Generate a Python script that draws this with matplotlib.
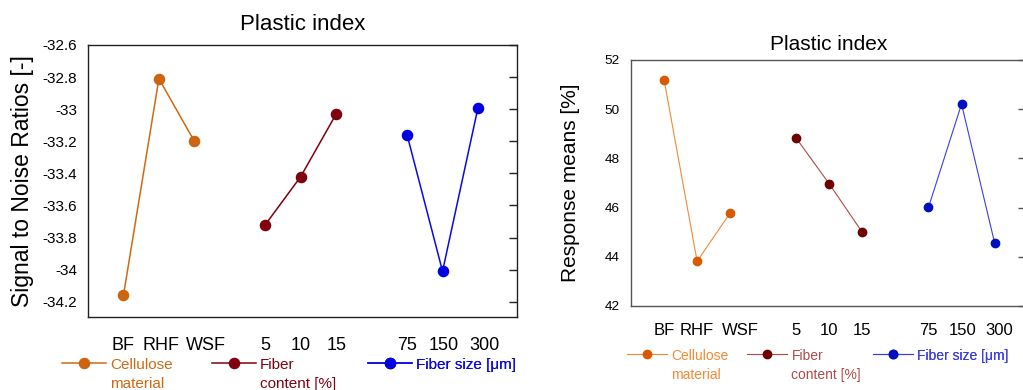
import numpy as np
import matplotlib.pyplot as plt
import matplotlib.transforms as mtrans

plt.rcParams['font.family'] = ['Liberation Sans', 'DejaVu Sans']

# ---- data ----
groups = ["Cellulose\nmaterial", "Fiber\ncontent [%]", "Fiber size [μm]"]
levels = [["BF", "RHF", "WSF"], ["5", "10", "15"], ["75", "150", "300"]]

sn_ratio = [[-34.16, -32.81, -33.20],
            [-33.72, -33.42, -33.03],
            [-33.16, -34.01, -32.99]]
resp_mean = [[51.2, 43.82, 45.78],
             [48.82, 46.96, 44.99],
             [46.01, 50.21, 44.57]]

sn_yticks = [-34.2, -34.0, -33.8, -33.6, -33.4, -33.2, -33.0, -32.8, -32.6]
sn_ticklabels = ["-34.2", "-34", "-33.8", "-33.6", "-33.4", "-33.2", "-33", "-32.8", "-32.6"]
mean_yticks = [42, 44, 46, 48, 50, 52]

# ---- styles ----
left_line = ["#cf6914", "#800010", "#0a0ae0"]
left_mark = ["#cc6410", "#800010", "#0000e0"]
right_line = ["#f28a34", "#b04a4a", "#3c3ce6"]
right_mark = ["#d85a00", "#700000", "#0010c0"]

W, H = 1023, 390
fig = plt.figure(figsize=(W / 100, H / 100), dpi=100)


def box(x0, y0, x1, y1):
    return [x0 / W, 1 - y1 / H, (x1 - x0) / W, (y1 - y0) / H]


def panel(ax, data, lcol, mcol, lw, ms, spine_col, fs, shifts):
    xs_all, labs, handles = [], [], []
    for g in range(3):
        xs = np.arange(3) + 4 * g
        h, = ax.plot(xs, data[g], color=lcol[g], lw=lw, marker="o", ms=ms,
                     mfc=mcol[g], mec=mcol[g], label=groups[g])
        handles.append(h)
        xs_all += list(xs)
        labs += levels[g]
    ax.set_xticks(xs_all)
    ax.set_xticklabels(labs, fontsize=fs["xt"])
    ax.tick_params(axis="x", bottom=False, pad=fs["xpad"])
    ax.tick_params(axis="y", left=False, right=True, direction="in",
                   length=6, width=1, color=spine_col, pad=8,
                   labelsize=fs["yt"])
    for s in ax.spines.values():
        s.set_color(spine_col)
        s.set_linewidth(1)
    # the exported labels are not quite centred on their points
    for lab, dx in zip(ax.get_xticklabels(), shifts):
        if dx:
            off = mtrans.ScaledTranslation(dx / 100, 0, fig.dpi_scale_trans)
            lab.set_transform(lab.get_transform() + off)
    return handles


def legends(ax, handles, xs, ytop, fs, hl):
    for h, x in zip(handles, xs):
        leg = ax.legend([h], [h.get_label()], loc="upper left",
                        bbox_to_anchor=(x / W, 1 - ytop / H),
                        bbox_transform=fig.transFigure, frameon=False,
                        fontsize=fs, handlelength=hl, handletextpad=0.3,
                        borderpad=0, borderaxespad=0, labelcolor="linecolor")
        for t in leg.get_texts():
            t.set_linespacing(1.45)
        for col in leg._legend_handle_box.get_children():
            for item in col.get_children():
                item.align = "top"
        ax.add_artist(leg)


# ---- left panel: S/N ratios ----
ax1 = fig.add_axes(box(88, 45, 517, 317))
h1 = panel(ax1, sn_ratio, left_line, left_mark, 1.1, 7.3, "#202020",
           {"xt": 13, "yt": 11, "xpad": 11},
           [0, 2, 12, 0, 0, 0, 0, 1, 6])
ax1.set_xlim(-1, 11.1)
ax1.set_ylim(-34.295, -32.6)
ax1.set_yticks(sn_yticks)
ax1.set_yticklabels(sn_ticklabels)
ax1.set_title("Plastic index", fontsize=16, pad=11)
ax1.set_ylabel("Signal to Noise Ratios [-]", fontsize=16.5, labelpad=6)
legends(ax1, h1, [62, 212, 368], 358, 11, 2.85)

# ---- right panel: means ----
ax2 = fig.add_axes(box(631, 60, 1026, 306))
h2 = panel(ax2, resp_mean, right_line, right_mark, 0.8, 6, "#555555",
           {"xt": 12, "yt": 9.7, "xpad": 9},
           [0, 0, 10, 0, 0, 0, 0, 1, 5])
ax2.set_xlim(-1, 10.95)
ax2.set_ylim(42, 52)
ax2.set_yticks(mean_yticks)
ax2.set_title("Plastic index", fontsize=15, pad=7)
ax2.set_ylabel("Response means [%]", fontsize=15, labelpad=18)
legends(ax2, h2, [627, 747, 873], 349, 10, 2.9)

fig.savefig("out.png", dpi=100)
